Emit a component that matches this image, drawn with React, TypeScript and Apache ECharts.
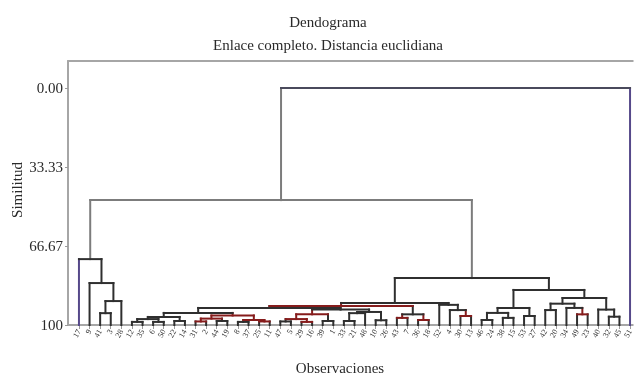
import React, { useEffect, useRef } from "react";
import * as echarts from "echarts";

// Observation labels, left to right along the x axis
const LEAF_LABELS = [
  "17", "9", "41", "3", "28", "12", "35", "6", "50", "22", "14", "31", "2", "44",
  "19", "8", "37", "25", "11", "47", "5", "29", "16", "39", "1", "33", "21", "48",
  "10", "26", "43", "7", "36", "18", "52", "4", "30", "13", "46", "24", "38", "15",
  "53", "27", "42", "20", "34", "49", "23", "40", "32", "45", "51",
];

// Linkage (scipy style): node index = 53 + row; indices < 53 are leaves
const MERGE_LEFT = [
  2, 53, 1, 0, 5, 7, 57, 9, 59, 11, 13, 62, 15, 17, 65, 64, 61, 19, 21, 70, 23, 72,
  25, 75, 28, 76, 74, 69, 30, 32, 81, 80, 36, 35, 34, 84, 38, 40, 89, 42, 91, 44,
  47, 46, 50, 49, 94, 99, 93, 88, 56, 103,
];
const MERGE_RIGHT = [
  3, 4, 54, 55, 6, 8, 58, 10, 60, 12, 14, 63, 16, 18, 66, 67, 68, 20, 22, 71, 24, 73,
  26, 27, 29, 77, 78, 79, 31, 33, 82, 83, 37, 85, 86, 87, 39, 41, 90, 43, 92, 45,
  48, 95, 51, 97, 96, 98, 100, 101, 102, 52,
];
// Similarity level at which each merge happens (axis: 0 top, 100 bottom)
const MERGE_HEIGHT = [
  95.0, 89.9, 82.3, 72.2, 98.7, 98.7, 97.5, 98.3, 96.6, 98.5, 98.3, 97.3, 98.7, 98.5,
  97.9, 96.0, 94.9, 98.5, 98.7, 97.5, 98.3, 95.5, 98.3, 95.0, 98.0, 94.5, 93.5, 92.8,
  97.0, 97.9, 95.5, 92.0, 96.2, 93.7, 91.5, 90.7, 97.9, 97.0, 94.9, 96.2, 92.8, 93.7,
  95.5, 92.8, 96.5, 93.5, 91.0, 88.6, 85.2, 80.2, 47.3, 0.0,
];
// Line tone per merge: d dark, r red, g gray, s slate
const MERGE_TONE = [
  "d", "d", "d", "d", "d", "d", "d", "d", "d", "r", "d", "r", "d", "r",
  "r", "r", "d", "d", "r", "r", "d", "r", "d", "d", "d", "d", "d", "d",
  "r", "r", "d", "r", "r", "d", "d", "d", "d", "d", "d", "d", "d", "d",
  "r", "d", "d", "d", "d", "d", "d", "d", "g", "s",
];
const LEAF_TONE_EXCEPTIONS: Record<number, string> = { 0: "p", 52: "p" };
const VERTICAL_TONE_EXCEPTIONS: Record<number, string> = { 56: "g", 102: "g" };

const Y_TICKS = [0, 33.33, 66.67, 100];

const TONES: Record<string, string> = {
  d: "#2f2f2f",
  r: "#861c1c",
  g: "#7c7c7c",
  s: "#4a4a5c",
  p: "#56498a",
};

export default function App() {
  const ref = useRef<HTMLDivElement>(null);
  useEffect(() => {
    if (!ref.current) return;
    const chart = echarts.init(ref.current, null, { renderer: "svg" });
    const nLeaves = LEAF_LABELS.length;
    const pos: number[] = [];
    const height: number[] = [];
    const tone: string[] = [];
    const parent: number[] = [];
    for (let i = 0; i < nLeaves; i++) {
      pos[i] = i;
      height[i] = 100;
      tone[i] = LEAF_TONE_EXCEPTIONS[i] || "d";
    }
    MERGE_LEFT.forEach((l, k) => {
      const id = nLeaves + k;
      const r = MERGE_RIGHT[k];
      pos[id] = (pos[l] + pos[r]) / 2;
      height[id] = MERGE_HEIGHT[k];
      tone[id] = MERGE_TONE[k];
      parent[l] = id;
      parent[r] = id;
    });
    type Seg = { x1: number; y1: number; x2: number; y2: number; c: string };
    const segs: Seg[] = [];
    for (let id = 0; id < pos.length; id++) {
      const p = parent[id];
      if (p === undefined) continue;
      const t = VERTICAL_TONE_EXCEPTIONS[id] || tone[id];
      segs.push({ x1: pos[id], y1: height[id], x2: pos[id], y2: height[p], c: TONES[t] });
    }
    MERGE_LEFT.forEach((l, k) => {
      const id = nLeaves + k;
      const r = MERGE_RIGHT[k];
      segs.push({ x1: pos[l], y1: height[id], x2: pos[r], y2: height[id], c: TONES[tone[id]] });
    });

    const leafIdx = LEAF_LABELS.map((_, i) => i);
    const serif = "'Liberation Serif', 'DejaVu Serif', serif";
    const xMin = (68 - 79) / 10.64;
    const xMax = (635 - 79) / 10.64;
    const frame = "#a6a6a6";

    chart.setOption({
      animation: false,
      grid: { left: 68, top: 61, right: 0, height: 264 },
      xAxis: [
        {
          type: "value",
          position: "bottom",
          min: xMin,
          max: xMax,
          splitLine: { show: false },
          axisLine: { show: true, onZero: false, lineStyle: { color: frame, width: 2 } },
          axisTick: {
            show: true,
            customValues: leafIdx,
            length: 4,
            lineStyle: { color: "#9a9a9a", width: 1 },
          },
          axisLabel: {
            customValues: leafIdx,
            formatter: (v: number) => LEAF_LABELS[Math.round(v)] ?? "",
            rotate: 60,
            fontSize: 8,
            fontFamily: serif,
            color: "#333",
            margin: 5,
          },
        },
        {
          type: "value",
          position: "top",
          min: xMin,
          max: xMax,
          splitLine: { show: false },
          axisLine: { show: true, onZero: false, lineStyle: { color: frame, width: 2 } },
          axisTick: { show: false },
          axisLabel: { show: false },
        },
      ],
      yAxis: {
        type: "value",
        inverse: true,
        min: -11.4,
        max: 100,
        splitLine: { show: false },
        axisLine: { show: true, onZero: false, lineStyle: { color: frame, width: 2 } },
        axisTick: {
          show: true,
          customValues: Y_TICKS,
          length: 3,
          lineStyle: { color: "#9a9a9a" },
        },
        axisLabel: {
          customValues: Y_TICKS,
          formatter: (v: number) => (Math.abs(v - 100) < 1e-6 ? "100" : v.toFixed(2)),
          fontSize: 15,
          fontFamily: serif,
          color: "#2a2a2a",
          margin: 5,
        },
      },
      graphic: [
        {
          type: "text",
          x: 328,
          y: 22,
          style: { text: "Dendograma", fontSize: 15, fontFamily: serif, fill: "#2a2a2a", align: "center", verticalAlign: "middle" },
        },
        {
          type: "text",
          x: 328,
          y: 45,
          style: {
            text: "Enlace completo. Distancia euclidiana",
            fontSize: 15,
            fontFamily: serif,
            fill: "#2a2a2a",
            align: "center",
            verticalAlign: "middle",
          },
        },
        {
          type: "text",
          x: 17,
          y: 190,
          rotation: Math.PI / 2,
          style: { text: "Similitud", fontSize: 15, fontFamily: serif, fill: "#2a2a2a", align: "center", verticalAlign: "middle" },
        },
        {
          type: "text",
          x: 340,
          y: 368,
          style: { text: "Observaciones", fontSize: 15, fontFamily: serif, fill: "#2a2a2a", align: "center", verticalAlign: "middle" },
        },
      ],
      series: [
        {
          type: "custom",
          coordinateSystem: "cartesian2d",
          xAxisIndex: 0,
          yAxisIndex: 0,
          data: segs.map((s) => [s.x1, s.y1, s.x2, s.y2]),
          encode: { x: [0, 2], y: [1, 3] },
          renderItem: (params: any, api: any) => {
            const s = segs[params.dataIndex];
            const p1 = api.coord([s.x1, s.y1]);
            const p2 = api.coord([s.x2, s.y2]);
            return {
              type: "line",
              shape: { x1: p1[0], y1: p1[1], x2: p2[0], y2: p2[1] },
              style: { stroke: s.c, lineWidth: 2, lineCap: "square" },
            };
          },
        },
      ],
    });
    return () => chart.dispose();
  }, []);
  return (
    <div
      ref={ref}
      style={{ position: "fixed", left: 0, top: 0, width: 635, height: 378 }}
    />
  );
}
